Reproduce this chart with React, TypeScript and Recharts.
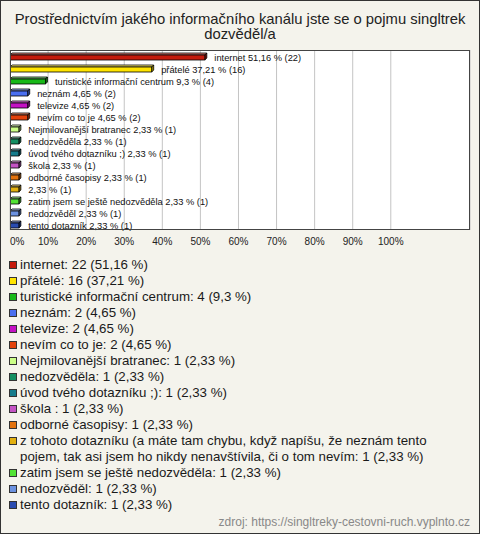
import { BarChart, Bar, XAxis, YAxis, CartesianGrid, LabelList, Cell } from 'recharts';

const titleLines = [
  'Prostřednictvím jakého informačního kanálu jste se o pojmu singltrek',
  'dozvěděl/a',
];

// full names used in the legend
const legendNames = [
  'internet',
  'přátelé',
  'turistické informační centrum',
  'neznám',
  'televize',
  'nevím co to je',
  'Nejmilovanější bratranec',
  'nedozvěděla',
  'úvod tvého dotazníku ;)',
  'škola ',
  'odborné časopisy',
  'z tohoto dotazníku (a máte tam chybu, když napíšu, že neznám tento pojem, tak asi jsem ho nikdy nenavštívila, či o tom nevím',
  'zatim jsem se ještě nedozvěděla',
  'nedozvěděl',
  'tento dotazník',
];

// names shown next to the bars
const barNames = [
  'internet',
  'přátelé',
  'turistické informační centrum',
  'neznám',
  'televize',
  'nevím co to je',
  'Nejmilovanější bratranec',
  'nedozvěděla',
  'úvod tvého dotazníku ;)',
  'škola ',
  'odborné časopisy',
  '',
  'zatim jsem se ještě nedozvěděla',
  'nedozvěděl',
  'tento dotazník',
];

const counts = [22, 16, 4, 2, 2, 2, 1, 1, 1, 1, 1, 1, 1, 1, 1];
const percents = [51.16, 37.21, 9.3, 4.65, 4.65, 4.65, 2.33, 2.33, 2.33, 2.33, 2.33, 2.33, 2.33, 2.33, 2.33];

const colors = [
  '#c41a0c', '#ffe400', '#18b818', '#4a6ff0', '#c412c4', '#e2420c', '#ccff88',
  '#138f62', '#167c8c', '#c454c4', '#e2720e', '#e2b010', '#52e234', '#6c92e0', '#2a4cb0',
];

const xTicks = [0, 10, 20, 30, 40, 50, 60, 70, 80, 90, 100];

const fmt = (v: number) => String(v).replace('.', ',');

const data = legendNames.map((name, i) => ({
  name,
  pct: percents[i],
  label: (barNames[i] ? barNames[i] + ' ' : '') + fmt(percents[i]) + ' % (' + counts[i] + ')',
  legend: name + ': ' + counts[i] + ' (' + fmt(percents[i]) + ' %)',
  color: colors[i],
}));

function shade(hex: string, f: number) {
  const n = parseInt(hex.slice(1), 16);
  const ch = [(n >> 16) & 255, (n >> 8) & 255, n & 255].map((c) =>
    Math.round(f > 0 ? c + (255 - c) * f : c * (1 + f)),
  );
  return `rgb(${ch.join(',')})`;
}

function Bar3D(props: any) {
  const { x, y, width, height, fill } = props;
  const d = 2;
  const top = y + d;
  const h = height - d;
  return (
    <g stroke="#000" strokeWidth={0.8}>
      <polygon
        points={`${x},${top} ${x + d},${y} ${x + width + d},${y} ${x + width},${top}`}
        fill={shade(fill, 0.45)}
      />
      <polygon
        points={`${x + width},${top} ${x + width + d},${y} ${x + width + d},${y + h} ${x + width},${top + h}`}
        fill={shade(fill, -0.35)}
      />
      <rect x={x} y={top} width={width} height={h} fill={fill} />
    </g>
  );
}

function BarText(props: any) {
  const { x, y, width, height, value } = props;
  return (
    <text x={x + width + 9.5} y={y + height / 2 + 4} fontSize={9.3} fill="#111" fontFamily="Liberation Sans, Arial, sans-serif">
      {value}
    </text>
  );
}

function PctTick(props: any) {
  const { x, y, payload } = props;
  return (
    <text
      x={x}
      y={y}
      dy="0.71em"
      textAnchor={payload.value === 0 ? 'start' : 'middle'}
      fontSize={10}
      fill="#222"
      fontFamily="Liberation Sans, Arial, sans-serif"
    >
      {payload.value}%
    </text>
  );
}

export default function App() {
  return (
    <div
      style={{
        position: 'absolute',
        left: 0,
        top: 0,
        width: 480,
        height: 534,
        background: '#f4f3ec',
        boxShadow: 'inset 0 0 0 1px #333',
        fontFamily: 'Liberation Sans, Arial, sans-serif',
        color: '#1a1a1a',
      }}
    >
      <div
        style={{
          position: 'absolute',
          left: 0,
          top: 12,
          width: 480,
          textAlign: 'center',
          fontSize: 14.8,
          lineHeight: '15px',
          color: '#222',
        }}
      >
        {titleLines.map((t, i) => (
          <div key={i}>{t}</div>
        ))}
      </div>

      <div style={{ position: 'absolute', left: 0, top: 0 }}>
        <BarChart
          width={480}
          height={260}
          data={data}
          layout="vertical"
          margin={{ top: 50, right: 10, bottom: 0, left: 10 }}
          barCategoryGap={0}
        >
          <CartesianGrid horizontal={false} stroke="#c4c4c4" fill="#fff" />
          <XAxis
            type="number"
            domain={[0, 120.8]}
            ticks={xTicks}
            allowDataOverflow
            axisLine={false}
            tickLine={false}
            height={30}
            tick={<PctTick />}
          />
          <YAxis type="category" dataKey="name" hide width={0} />
          <Bar dataKey="pct" barSize={7} shape={<Bar3D />} isAnimationActive={false}>
            {data.map((d, i) => (
              <Cell key={i} fill={d.color} />
            ))}
            <LabelList dataKey="label" content={<BarText />} />
          </Bar>
        </BarChart>
      </div>

      <div
        style={{
          position: 'absolute',
          left: 10,
          top: 50,
          width: 460,
          height: 180,
          border: '1px solid #444',
          boxSizing: 'border-box',
          pointerEvents: 'none',
        }}
      />

      <div style={{ position: 'absolute', left: 0, top: 257, width: 466, fontSize: 13.3, lineHeight: '16px' }}>
        {data.map((d, i) => (
          <div key={i} style={{ position: 'relative', paddingLeft: 20 }}>
            <span
              style={{
                position: 'absolute',
                left: 9,
                top: 4,
                width: 8,
                height: 8,
                boxSizing: 'border-box',
                border: '1px solid #333',
                background: d.color,
              }}
            />
            {d.legend}
          </div>
        ))}
      </div>

      <div
        style={{
          position: 'absolute',
          right: 10,
          top: 514,
          fontSize: 12,
          lineHeight: '16px',
          color: '#888',
        }}
      >
        zdroj: https://singltreky-cestovni-ruch.vyplnto.cz
      </div>
    </div>
  );
}
